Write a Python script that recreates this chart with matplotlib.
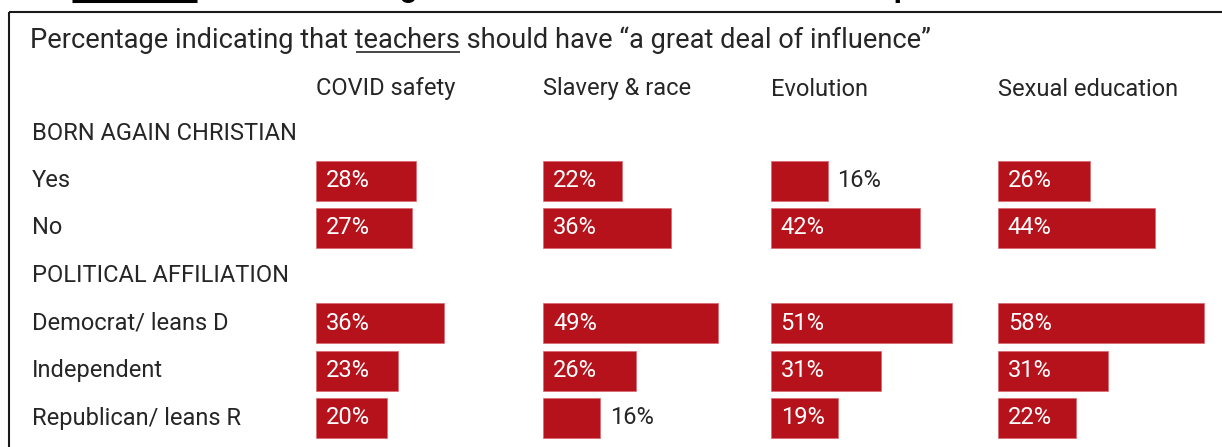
import matplotlib
matplotlib.use("Agg")
import matplotlib.pyplot as plt
import matplotlib.transforms as mtransforms

plt.rcParams['font.family'] = ['Roboto', 'DejaVu Sans']

# ---- data ----
topics = ["COVID safety", "Slavery & race", "Evolution", "Sexual education"]
sections = ["BORN AGAIN CHRISTIAN", "POLITICAL AFFILIATION"]
groups = ["Yes", "No", "Democrat/ leans D", "Independent", "Republican/ leans R"]
covid = [28, 27, 36, 23, 20]
slavery = [22, 36, 49, 26, 16]
evolution = [16, 42, 51, 31, 19]
sex_ed = [26, 44, 58, 31, 22]
subtitle_pre = "Percentage indicating that "
subtitle_word = "teachers"
subtitle_post = " should have \u201ca great deal of influence\u201d"

series = [covid, slavery, evolution, sex_ed]

# ---- layout (pixels) ----
W, H = 1222, 447
BAR_RED = "#b5121b"
TEXT = "#262626"
FS = 17.0
SUB_FS = 19.6
row_top = 133.0      # pixel y of first section row
row_step = 47.5      # pixel spacing between rows
group_rows = [1, 2, 4, 5, 6]
section_rows = [0, 3]
col_x0 = 316.0
col_step = 227.3
px_per_pct = 3.56
xmax = 62

fig = plt.figure(figsize=(W / 100, H / 100), dpi=100)
fig.patch.set_facecolor("white")

ov = fig.add_axes([0, 0, 1, 1])
ov.set_xlim(0, W)
ov.set_ylim(H, 0)
ov.axis("off")

# frame around the panel
ov.plot([9, 9], [12, H + 5], color="#1a1a1a", lw=1.5, solid_capstyle="butt")
ov.plot([9, W + 5], [12, 12], color="#1a1a1a", lw=1.5, solid_capstyle="butt")

# remnants of the heading above the panel
ov.plot([72, 197], [0.8, 0.8], color="black", lw=2.2, solid_capstyle="butt")
ov.text(400, -3, "g", fontsize=22, fontweight="bold", color="black", va="baseline")
ov.text(893, -3, "p", fontsize=22, fontweight="bold", color="black", va="baseline")

# subtitle with underlined word
sub_base = 48
ov.text(30, sub_base, subtitle_pre + subtitle_word + subtitle_post,
        fontsize=SUB_FS, color=TEXT, va="baseline")
fig.canvas.draw()
renderer = fig.canvas.get_renderer()
t_pre = ov.text(30, sub_base, subtitle_pre, fontsize=SUB_FS, va="baseline", alpha=0)
t_word = ov.text(30, sub_base, subtitle_pre + subtitle_word, fontsize=SUB_FS,
                 va="baseline", alpha=0)
bb_pre = t_pre.get_window_extent(renderer)
bb_word = t_word.get_window_extent(renderer)
inv = ov.transData.inverted()
x_a = inv.transform((bb_pre.x1, 0))[0]
x_b = inv.transform((bb_word.x1, 0))[0]
ov.plot([x_a + 1, x_b], [sub_base + 3.5, sub_base + 3.5], color=TEXT, lw=1.2,
        solid_capstyle="butt")

# column headers
for k, name in enumerate(topics):
    ov.text(col_x0 + col_step * k, 89, name, fontsize=FS, color=TEXT, va="center")

# row labels
for r, name in zip(section_rows, sections):
    ov.text(32, row_top + row_step * r, name, fontsize=FS, color=TEXT, va="center")
for r, name in zip(group_rows, groups):
    ov.text(32, row_top + row_step * r, name, fontsize=FS, color=TEXT, va="center")

# bar panels, one per topic
y_lo = -row_top / row_step
y_hi = (H - row_top) / row_step
for k, vals in enumerate(series):
    left = (col_x0 + col_step * k) / W
    ax = fig.add_axes([left, 0, xmax * px_per_pct / W, 1])
    ax.set_xlim(0, xmax)
    ax.set_ylim(y_hi, y_lo)
    ax.axis("off")
    ax.patch.set_alpha(0)
    ax.barh(group_rows, vals, height=40 / row_step, left=0, color=BAR_RED,
            edgecolor="#d9666e", linewidth=0.5)
    off = mtransforms.offset_copy(ax.transData, fig=fig, x=10, y=0, units="dots")
    for r, v in zip(group_rows, vals):
        if v >= 18:
            ax.text(0, r, f"{v}%", transform=off, fontsize=FS, color="white",
                    va="center", ha="left")
        else:
            ax.text(v, r, f"{v}%", transform=off, fontsize=FS, color=TEXT,
                    va="center", ha="left")

fig.savefig("out.png", dpi=100, facecolor="white")
